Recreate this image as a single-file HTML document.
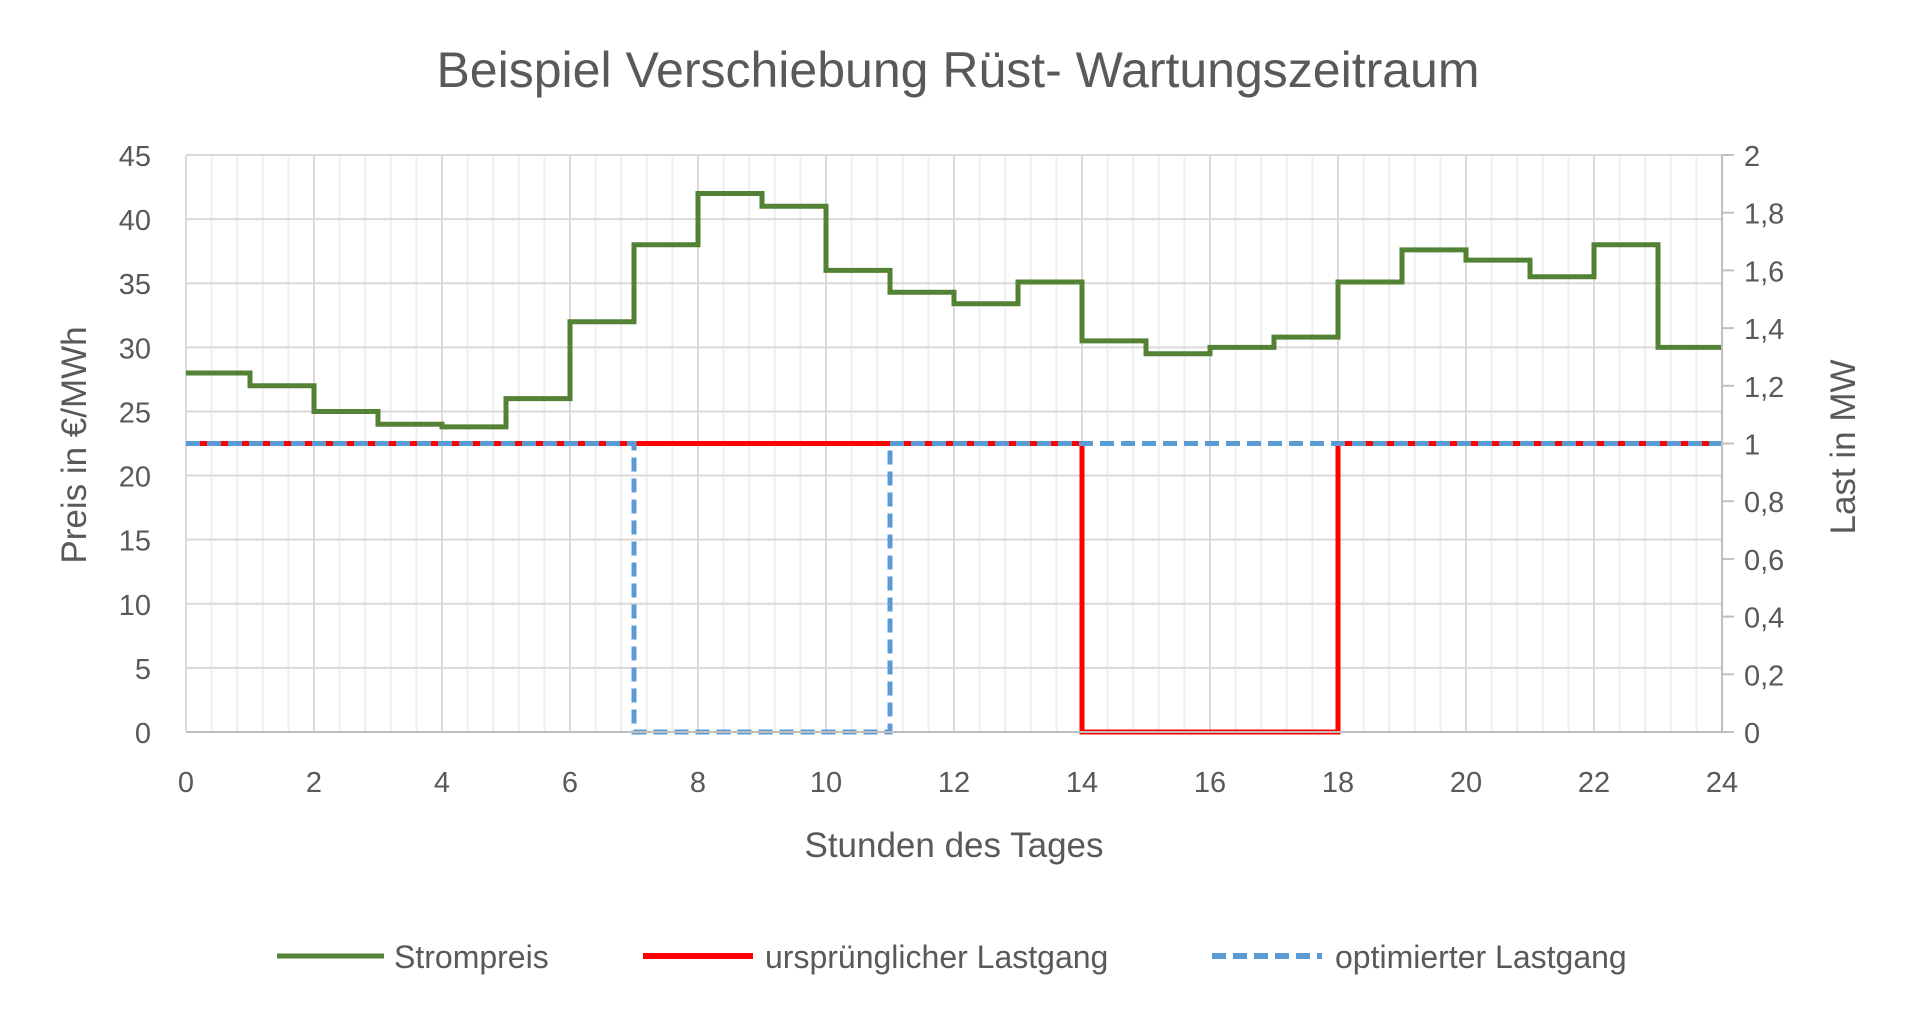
<!DOCTYPE html>
<html><head><meta charset="utf-8"><style>
body{margin:0;background:#fff;width:1920px;height:1014px;overflow:hidden;font-family:"Liberation Sans",sans-serif;}
svg text{fill:#595959;font-family:"Liberation Sans",sans-serif;}
</style></head><body>
<svg id="chart" width="1920" height="1014" xmlns="http://www.w3.org/2000/svg">
<text x="958" y="87" font-size="50" text-anchor="middle">Beispiel Verschiebung Rüst- Wartungszeitraum</text>
<g id="grid"></g>
<g id="series"></g>
<g id="axes"></g>
<text x="954" y="857" font-size="35" text-anchor="middle">Stunden des Tages</text>
<text transform="translate(86,445) rotate(-90)" font-size="35" text-anchor="middle">Preis in €/MWh</text>
<text transform="translate(1855,447) rotate(-90)" font-size="35" text-anchor="middle">Last in MW</text>
<g>
<g><line x1="277" y1="956" x2="384" y2="956" stroke="#548235" stroke-width="5"/><text x="394" y="968" font-size="32">Strompreis</text></g>
<g><line x1="643" y1="956" x2="753" y2="956" stroke="#ff0000" stroke-width="6"/><text x="765" y="968" font-size="32">ursprünglicher Lastgang</text></g>
<g><line x1="1212" y1="956" x2="1322" y2="956" stroke="#5b9bd5" stroke-width="6" stroke-dasharray="14,7"/><text x="1335" y="968" font-size="32">optimierter Lastgang</text></g>
</g>
</svg>
<script>
const hours=[0,1,2,3,4,5,6,7,8,9,10,11,12,13,14,15,16,17,18,19,20,21,22,23];
const price=[28,27,25,24,23.8,26,32,38,42,41,36,34.3,33.4,35.1,30.5,29.5,30,30.8,35.1,37.6,36.8,35.5,38,30];
const loadOriginal=[1,1,1,1,1,1,1,1,1,1,1,1,1,1,0,0,0,0,1,1,1,1,1,1];
const loadOptimized=[1,1,1,1,1,1,1,0,0,0,0,1,1,1,1,1,1,1,1,1,1,1,1,1];
const xTicks=[0,2,4,6,8,10,12,14,16,18,20,22,24];
const yLeftTicks=[0,5,10,15,20,25,30,35,40,45];
const yRightTicks=["0","0,2","0,4","0,6","0,8","1","1,2","1,4","1,6","1,8","2"];
const L=186,R=1722,T=155,B=732;
const xs=h=>L+(R-L)*h/24, yl=v=>B-(B-T)*v/45, yr=v=>B-(B-T)*v/2;
const NS="http://www.w3.org/2000/svg";
function mk(tag,attrs,parent){const e=document.createElementNS(NS,tag);for(const k in attrs)e.setAttribute(k,attrs[k]);parent.appendChild(e);return e;}
const grid=document.getElementById('grid'),ser=document.getElementById('series'),ax=document.getElementById('axes');
for(let i=0;i<=60;i++){const h=i*0.4;if(i%5===0)continue;const l=mk('line',{x1:xs(h),x2:xs(h),y1:T,y2:B,stroke:'#efefef','stroke-width':2},grid);

}
xTicks.forEach(h=>{const l=mk('line',{x1:xs(h),x2:xs(h),y1:T,y2:B,stroke:'#d9d9d9','stroke-width':2},grid);


const t=mk('text',{x:xs(h),y:792,'font-size':29,'text-anchor':'middle'},ax);t.textContent=h;

});
yLeftTicks.forEach(v=>{const l=mk('line',{x1:L,x2:R,y1:yl(v),y2:yl(v),stroke:'#d9d9d9','stroke-width':2},grid);


const t=mk('text',{x:151,y:yl(v)+11,'font-size':29,'text-anchor':'end'},ax);t.textContent=v;

});
yRightTicks.forEach((s,i)=>{const v=i*0.2;const l=mk('line',{x1:R,x2:R+12,y1:yr(v),y2:yr(v),stroke:'#bfbfbf','stroke-width':2},ax);


const t=mk('text',{x:1744,y:yr(v)+11,'font-size':29},ax);t.textContent=s;

});
const a1=mk('line',{x1:L,x2:R,y1:B,y2:B,stroke:'#bfbfbf','stroke-width':2},ax);


const a2=mk('line',{x1:R,x2:R,y1:T,y2:B,stroke:'#bfbfbf','stroke-width':2},ax);


function stepPath(vals,fy){let d='';vals.forEach((v,i)=>{const h=hours[i];d+=(i===0?'M':'L')+xs(h)+','+fy(v)+'L'+xs(h+1)+','+fy(v);});return d;}
const p1=mk('path',{d:stepPath(price,yl),fill:'none',stroke:'#548235','stroke-width':5},ser);


const p2=mk('path',{d:stepPath(loadOriginal,yr),fill:'none',stroke:'#ff0000','stroke-width':5},ser);


const p3=mk('path',{d:stepPath(loadOptimized,yr),fill:'none',stroke:'#5b9bd5','stroke-width':5,'stroke-dasharray':'14,7'},ser);


</script>
</body></html>
